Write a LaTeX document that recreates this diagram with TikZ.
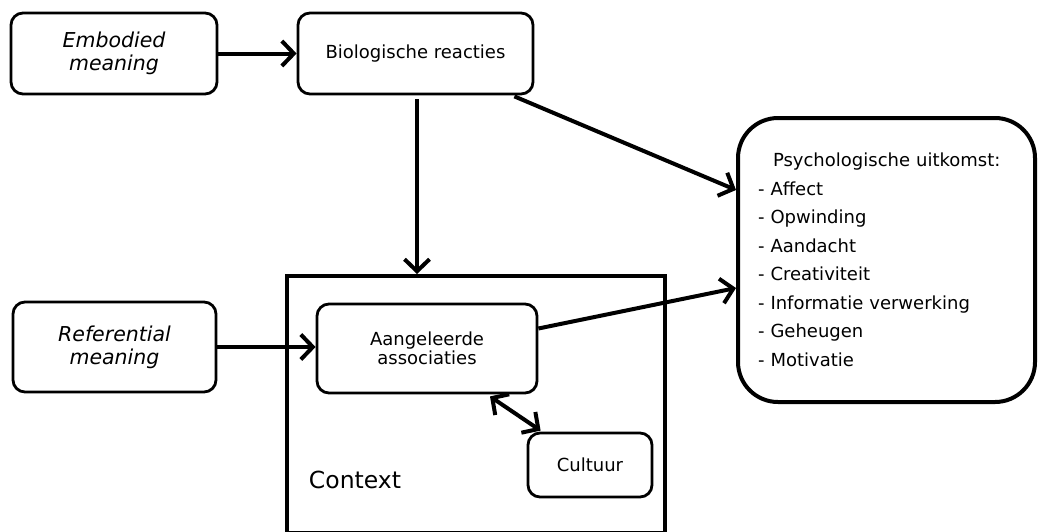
\documentclass[tikz,border=0pt]{standalone}
\usepackage{fontspec}
\setmainfont{DejaVu Sans}
\usetikzlibrary{arrows.meta,calc}
\begin{document}
\begin{tikzpicture}[x=1pt,y=-1pt,
  box/.style={draw,line width=2.8pt,rounded corners=12pt,inner sep=0pt,align=center,font=\fontsize{18}{19.5}\selectfont},
  ibox/.style={box,font=\fontsize{20.5}{23}\selectfont\itshape},
  barb/.tip={Straight Barb[length=12pt,width=25pt]},
  arr/.style={line width=4pt,-barb},
  darr/.style={line width=4pt,barb-barb},
]
\useasboundingbox (0,0) rectangle (1038,531);
\node[ibox,minimum width=206pt,minimum height=81pt] (emb) at (114,53.5) {Embodied\\meaning};
\node[box,minimum width=235pt,minimum height=81pt] (bio) at (415.5,53.5) {Biologische reacties};
\node[ibox,minimum width=203pt,minimum height=90pt] (ref) at (114.5,347) {Referential\\meaning};
\node[draw,line width=4pt,minimum width=378pt,minimum height=256.5pt,inner sep=0pt] (ctx) at (476,404.25) {};
\node[box,minimum width=220pt,minimum height=89pt] (aang) at (427,348.5) {Aangeleerde\\associaties};
\node[box,minimum width=124pt,minimum height=64pt] (cult) at (590,465) {Cultuur};
\node[font=\fontsize{23.5}{26}\selectfont,inner sep=0pt] (ctxl) at (355,480) {Context};
\node[draw,line width=4pt,rounded corners=40pt,minimum width=297pt,minimum height=284pt,inner sep=0pt,
      text width=257pt,align=left,font=\fontsize{18}{28.5}\selectfont] (psy) at (886.5,260)
  {\hspace*{15pt}Psychologische uitkomst:\\- Affect\\- Opwinding\\- Aandacht\\- Creativiteit\\- Informatie verwerking\\- Geheugen\\- Motivatie};
\coordinate (bs) at ($(bio.south)+(1.5,4)$);
\coordinate (b1) at ($(bio.south east)+(-20,1)$);
\coordinate (p1) at ($(psy.north west)+(0,74)$);
\coordinate (a1) at ($(aang.east)+(0,-20)$);
\coordinate (p2) at ($(psy.north west)+(0,172)$);
\coordinate (d1) at ($(aang.south)+(63,2)$);
\coordinate (d2) at ($(cult.north west)+(14,-1)$);
\draw[arr] (emb.east) -- (bio.west);
\draw[arr] (bs) -- (bs |- ctx.north);
\draw[arr] (b1) -- (p1);
\draw[arr] (ref.east) -- (ref.east -| aang.west);
\draw[arr] (a1) -- (p2);
\draw[darr] (d1) -- (d2);
\end{tikzpicture}
\end{document}
